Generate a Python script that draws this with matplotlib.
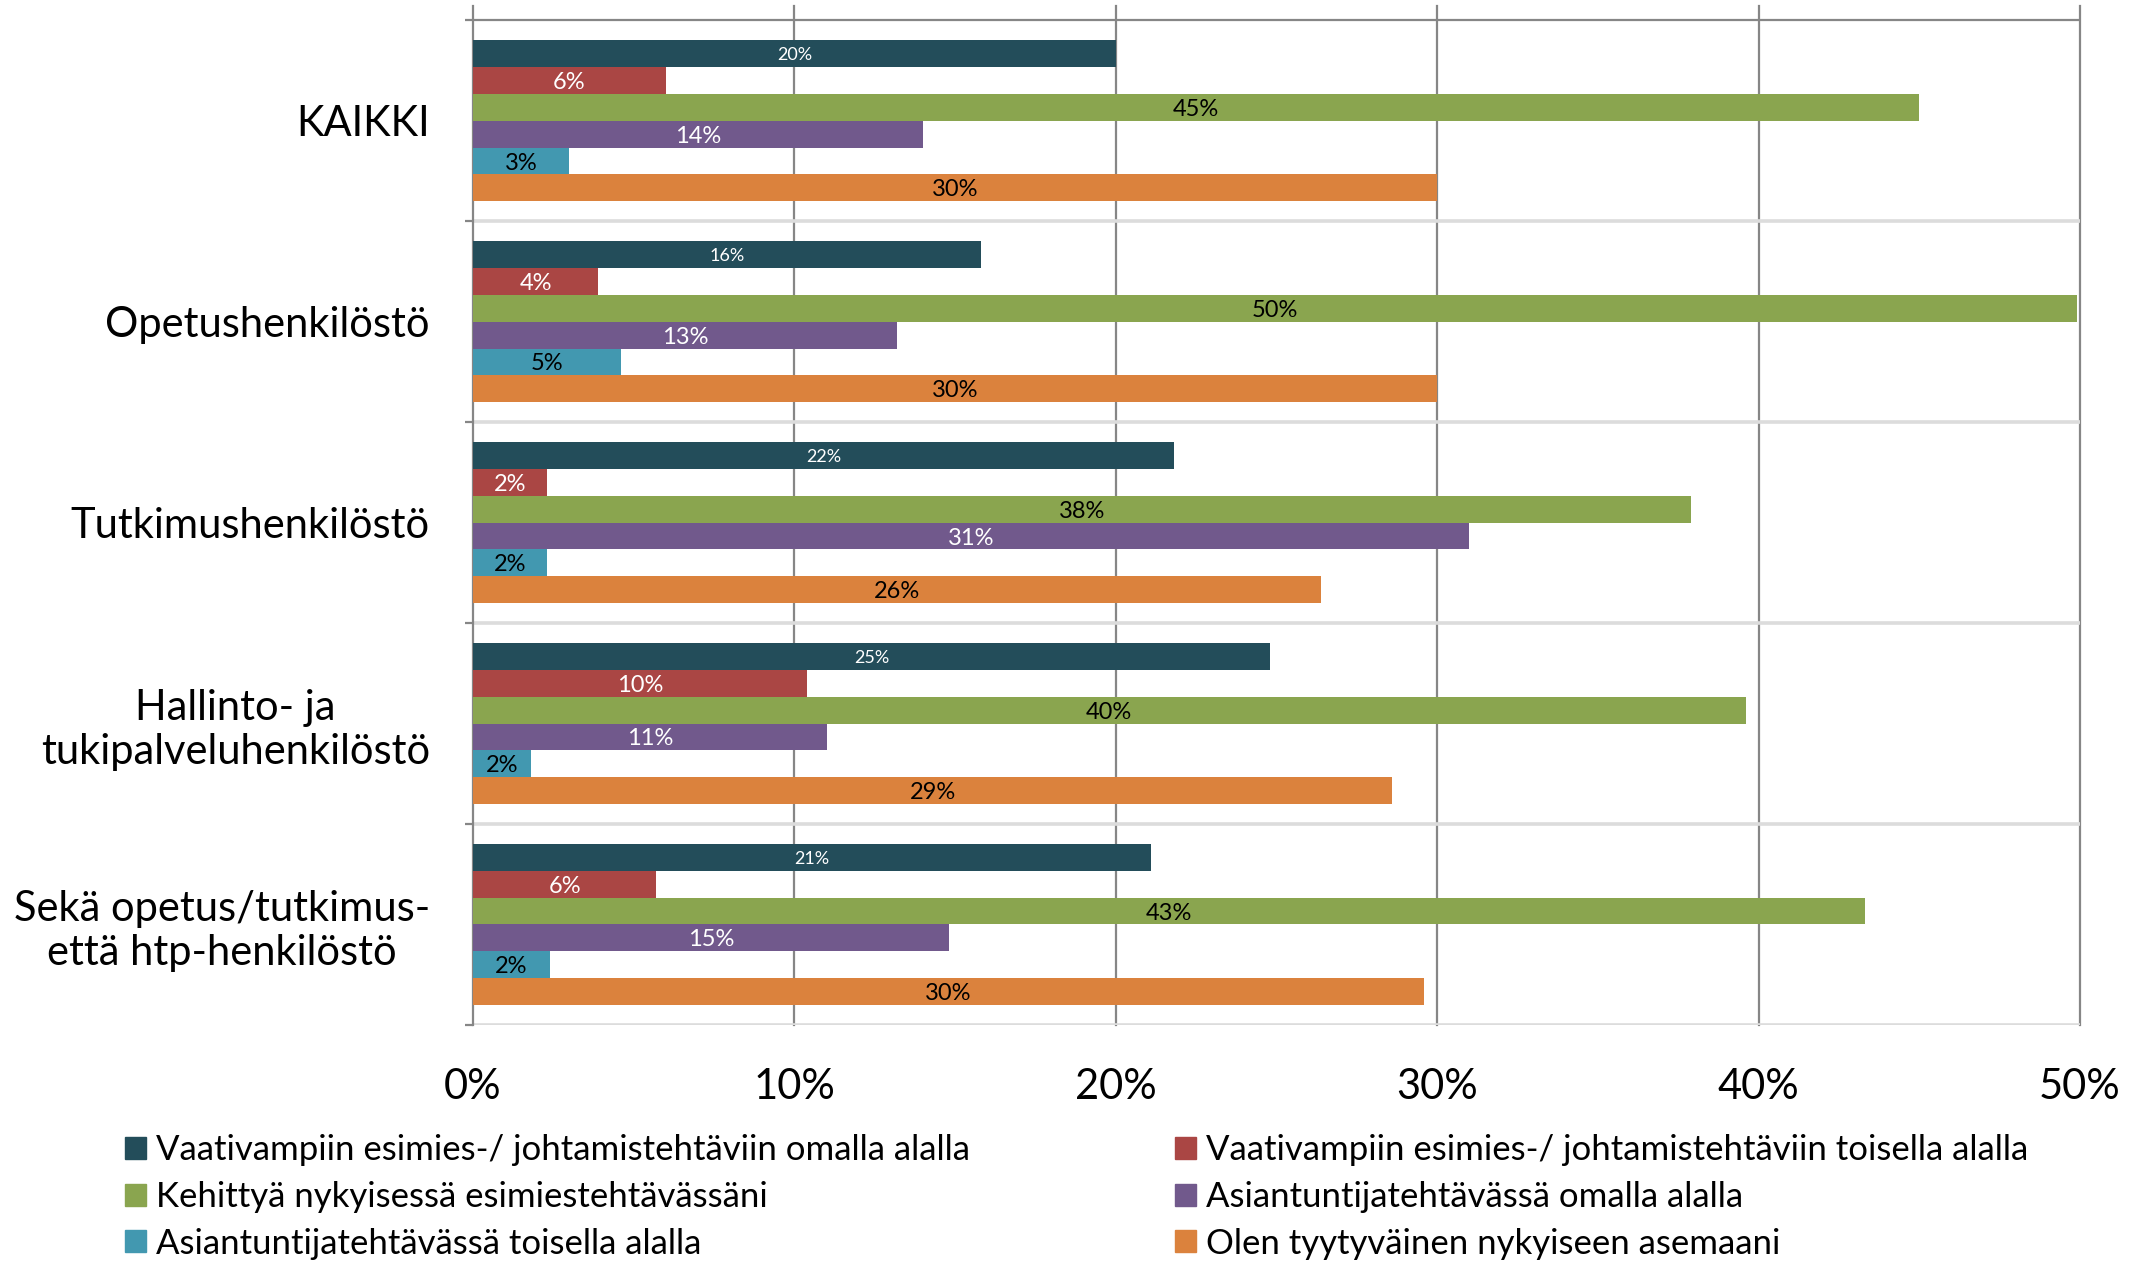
import matplotlib
matplotlib.use("Agg")
import matplotlib.pyplot as plt
from matplotlib.patches import Patch
import numpy as np

plt.rcParams['font.family'] = ['Lato', 'DejaVu Sans']

# categories, top to bottom
categories = ['KAIKKI', 'Opetushenkilöstö', 'Tutkimushenkilöstö',
              'Hallinto- ja\ntukipalveluhenkilöstö',
              'Sekä opetus/tutkimus-\nettä htp-henkilöstö']

# series values (%)
omalla_johto = [20.0, 15.8, 21.8, 24.8, 21.1]
toisella_johto = [6.0, 3.9, 2.3, 10.4, 5.7]
kehittya = [45.0, 49.9, 37.9, 39.6, 43.3]
asiantuntija_oma = [14.0, 13.2, 31.0, 11.0, 14.8]
asiantuntija_toinen = [3.0, 4.6, 2.3, 1.8, 2.4]
tyytyvainen = [30.0, 30.0, 26.4, 28.6, 29.6]

series_names = ['Vaativampiin esimies-/ johtamistehtäviin omalla alalla',
                'Vaativampiin esimies-/ johtamistehtäviin toisella alalla',
                'Kehittyä nykyisessä esimiestehtävässäni',
                'Asiantuntijatehtävässä omalla alalla',
                'Asiantuntijatehtävässä toisella alalla',
                'Olen tyytyväinen nykyiseen asemaani']
series = [omalla_johto, toisella_johto, kehittya, asiantuntija_oma,
          asiantuntija_toinen, tyytyvainen]
colors = ['#234D5A', '#AA4644', '#8AA54F', '#71598C', '#4298B0', '#DB823D']
label_colors = ['white', 'white', 'black', 'white', 'black', 'black']
label_sizes = [13, 17, 17, 17, 17, 17]

x_ticks = [0, 10, 20, 30, 40, 50]

fig = plt.figure(figsize=(21.45, 12.61), dpi=100)
ax = fig.add_axes([0.2205, 0.1872, 0.7492, 0.8081])

y = np.arange(len(categories))
group = 0.8
h = group / len(series)

for i, vals in enumerate(series):
    pos = y - group / 2 + (i + 0.5) * h
    bars = ax.barh(pos, vals, height=h, color=colors[i], zorder=3,
                   label=series_names[i])
    for b, v in zip(bars, vals):
        ax.text(b.get_width() / 2, b.get_y() + b.get_height() / 2,
                f'{v:.0f}%', ha='center', va='center_baseline',
                color=label_colors[i], fontsize=label_sizes[i], zorder=4)

ax.set_xlim(0, 50)
ax.set_ylim(len(categories) - 0.5, -0.572)

# vertical gridlines
for t in x_ticks[1:]:
    ax.axvline(t, color='#868686', lw=1.6, zorder=1, clip_on=False)

# category separators
bounds = np.arange(len(categories) + 1) - 0.5
for k, b in enumerate(bounds):
    ax.axhline(b, color='#868686' if k == 0 else '#dcdcdc',
               lw=1.6 if k == 0 else 2.6, zorder=1)

ax.set_xticks(x_ticks)
ax.set_xticklabels([f'{t}%' for t in x_ticks], fontsize=30)
ax.tick_params(axis='x', length=0, pad=31)

ax.set_yticks(y)
ax.set_yticklabels(categories, fontsize=30)
for lab in ax.get_yticklabels():
    lab.set_multialignment('center')
ax.tick_params(axis='y', which='major', length=0, pad=31)
ax.set_yticks(bounds, minor=True)
ax.tick_params(axis='y', which='minor', length=6, width=1.6, color='#868686')

for s in ['top', 'right', 'bottom']:
    ax.spines[s].set_visible(False)
ax.spines['left'].set_color('#868686')
ax.spines['left'].set_linewidth(1.6)

handles = [Patch(color=c) for c in colors]
leg_kw = dict(frameon=False, fontsize=25, handlelength=0.6, handleheight=0.6,
              handletextpad=0.3, labelspacing=0.42, borderpad=0, borderaxespad=0,
              loc='center left')
leg1 = fig.legend([handles[0], handles[2], handles[4]],
                  [series_names[0], series_names[2], series_names[4]],
                  bbox_to_anchor=(125 / 2145, (1261 - 1197) / 1261), **leg_kw)
leg2 = fig.legend([handles[1], handles[3], handles[5]],
                  [series_names[1], series_names[3], series_names[5]],
                  bbox_to_anchor=(1175 / 2145, (1261 - 1197) / 1261), **leg_kw)

fig.savefig('out.png', dpi=100)
